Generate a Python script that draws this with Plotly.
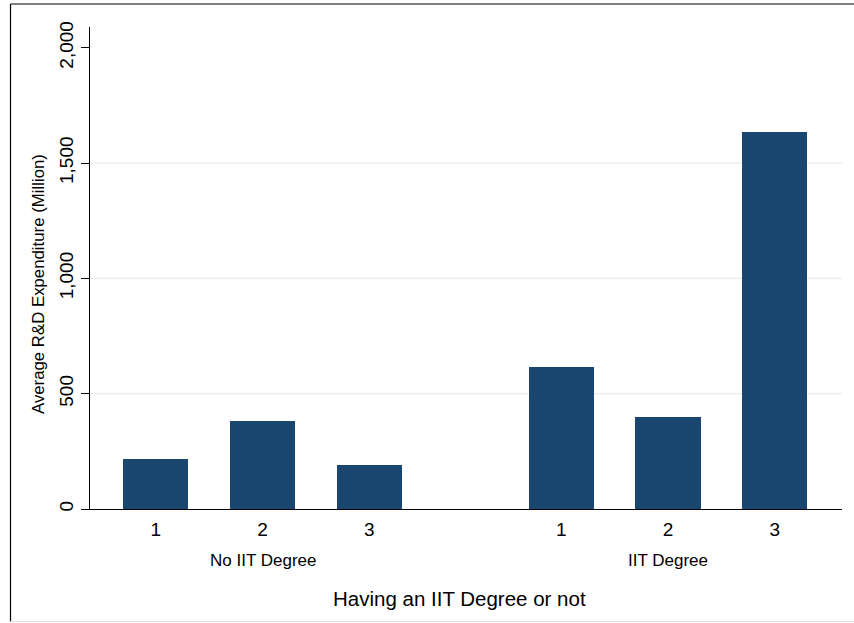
import plotly.graph_objects as go

# ---- data ----
groups = ["No IIT Degree", "IIT Degree"]
categories = ["1", "2", "3"]
no_iit_values = [218, 380, 190]
iit_values = [614, 398, 1633]
y_tick_values = [0, 500, 1000, 1500, 2000]
y_tick_labels = ["0", "500", "1,000", "1,500", "2,000"]
grid_values = [500, 1000, 1500]

BAR_COLOR = "#1a476f"
FONT = "Liberation Sans, Arial, Helvetica, sans-serif"
GROUP_STEP = 3.8  # horizontal offset between groups, in category units

# positions built from category index + group offset
series = [no_iit_values, iit_values]
xs, ys, labels = [], [], []
group_centers = []
for g, vals in enumerate(series):
    base = g * GROUP_STEP
    for i, v in enumerate(vals):
        xs.append(base + i)
        ys.append(v)
        labels.append(categories[i])
    group_centers.append(base + (len(vals) - 1) / 2)

fig = go.Figure()
fig.add_trace(go.Bar(
    x=xs, y=ys, width=0.61,
    marker=dict(color=BAR_COLOR, line=dict(width=0)),
    showlegend=False, hoverinfo="y",
))

W, H = 854, 623
L, R, T, B = 90, 12, 27, 114
pw, ph = W - L - R, H - T - B

def px_to_paper_x(px):
    return (px - L) / pw

def px_to_paper_y(py):
    return (H - B - py) / ph

fig.update_layout(
    width=W, height=H,
    margin=dict(l=L, r=R, t=T, b=B),
    paper_bgcolor="white", plot_bgcolor="white",
    font=dict(family=FONT, color="black"),
    bargap=0,
    xaxis=dict(
        range=[-0.617, 6.431],
        tickvals=xs, ticktext=labels,
        tickfont=dict(size=19, color="black"),
        ticks="outside", ticklen=3, tickcolor="rgba(0,0,0,0)",
        showgrid=False, zeroline=False,
        showline=True, linecolor="black", linewidth=1,
        fixedrange=True,
    ),
    yaxis=dict(
        range=[0, 2090],
        tickvals=y_tick_values, ticktext=y_tick_labels,
        tickangle=-90,
        tickfont=dict(size=19, color="black"),
        ticks="outside", ticklen=8, tickcolor="black", tickwidth=1,
        showgrid=False, zeroline=False,
        showline=True, linecolor="black", linewidth=1,
        fixedrange=True,
    ),
)

# light horizontal grid lines (not at the top tick)
for gv in grid_values:
    fig.add_shape(type="line", xref="paper", yref="y", x0=0, x1=1, y0=gv, y1=gv,
                  line=dict(color="#ececec", width=1.2), layer="below")

# group labels
for gname, gc in zip(groups, group_centers):
    fig.add_annotation(x=gc, xref="x", y=px_to_paper_y(560), yref="paper",
                       text=gname, showarrow=False, font=dict(size=17, color="black"),
                       xanchor="center", yanchor="middle")

# x-axis title
fig.add_annotation(x=px_to_paper_x(459), xref="paper", y=px_to_paper_y(598), yref="paper",
                   text="Having an IIT Degree or not", showarrow=False,
                   font=dict(size=20.5, color="black"), xanchor="center", yanchor="middle")

# y-axis title
fig.add_annotation(x=px_to_paper_x(38), xref="paper", y=px_to_paper_y(284), yref="paper",
                   text="Average R&amp;D Expenditure (Million)", showarrow=False, textangle=-90,
                   font=dict(size=16.8, color="black"), xanchor="center", yanchor="middle")

# outer frame (top/left dark, bottom faint)
x_left = px_to_paper_x(10.5)
x_right = px_to_paper_x(870)
y_top = px_to_paper_y(4)
y_bot = px_to_paper_y(621.5)
fig.add_shape(type="line", xref="paper", yref="paper", x0=x_left, x1=x_right, y0=y_top, y1=y_top,
              line=dict(color="black", width=1.2))
fig.add_shape(type="line", xref="paper", yref="paper", x0=x_left, x1=x_left, y0=y_top, y1=y_bot,
              line=dict(color="black", width=1.2))
fig.add_shape(type="line", xref="paper", yref="paper", x0=x_left, x1=x_right, y0=y_bot, y1=y_bot,
              line=dict(color="#dddddd", width=1))

fig.write_html("out.html", config={"displayModeBar": False},
               post_script="document.body.style.margin='0';document.body.style.overflow='hidden';")
